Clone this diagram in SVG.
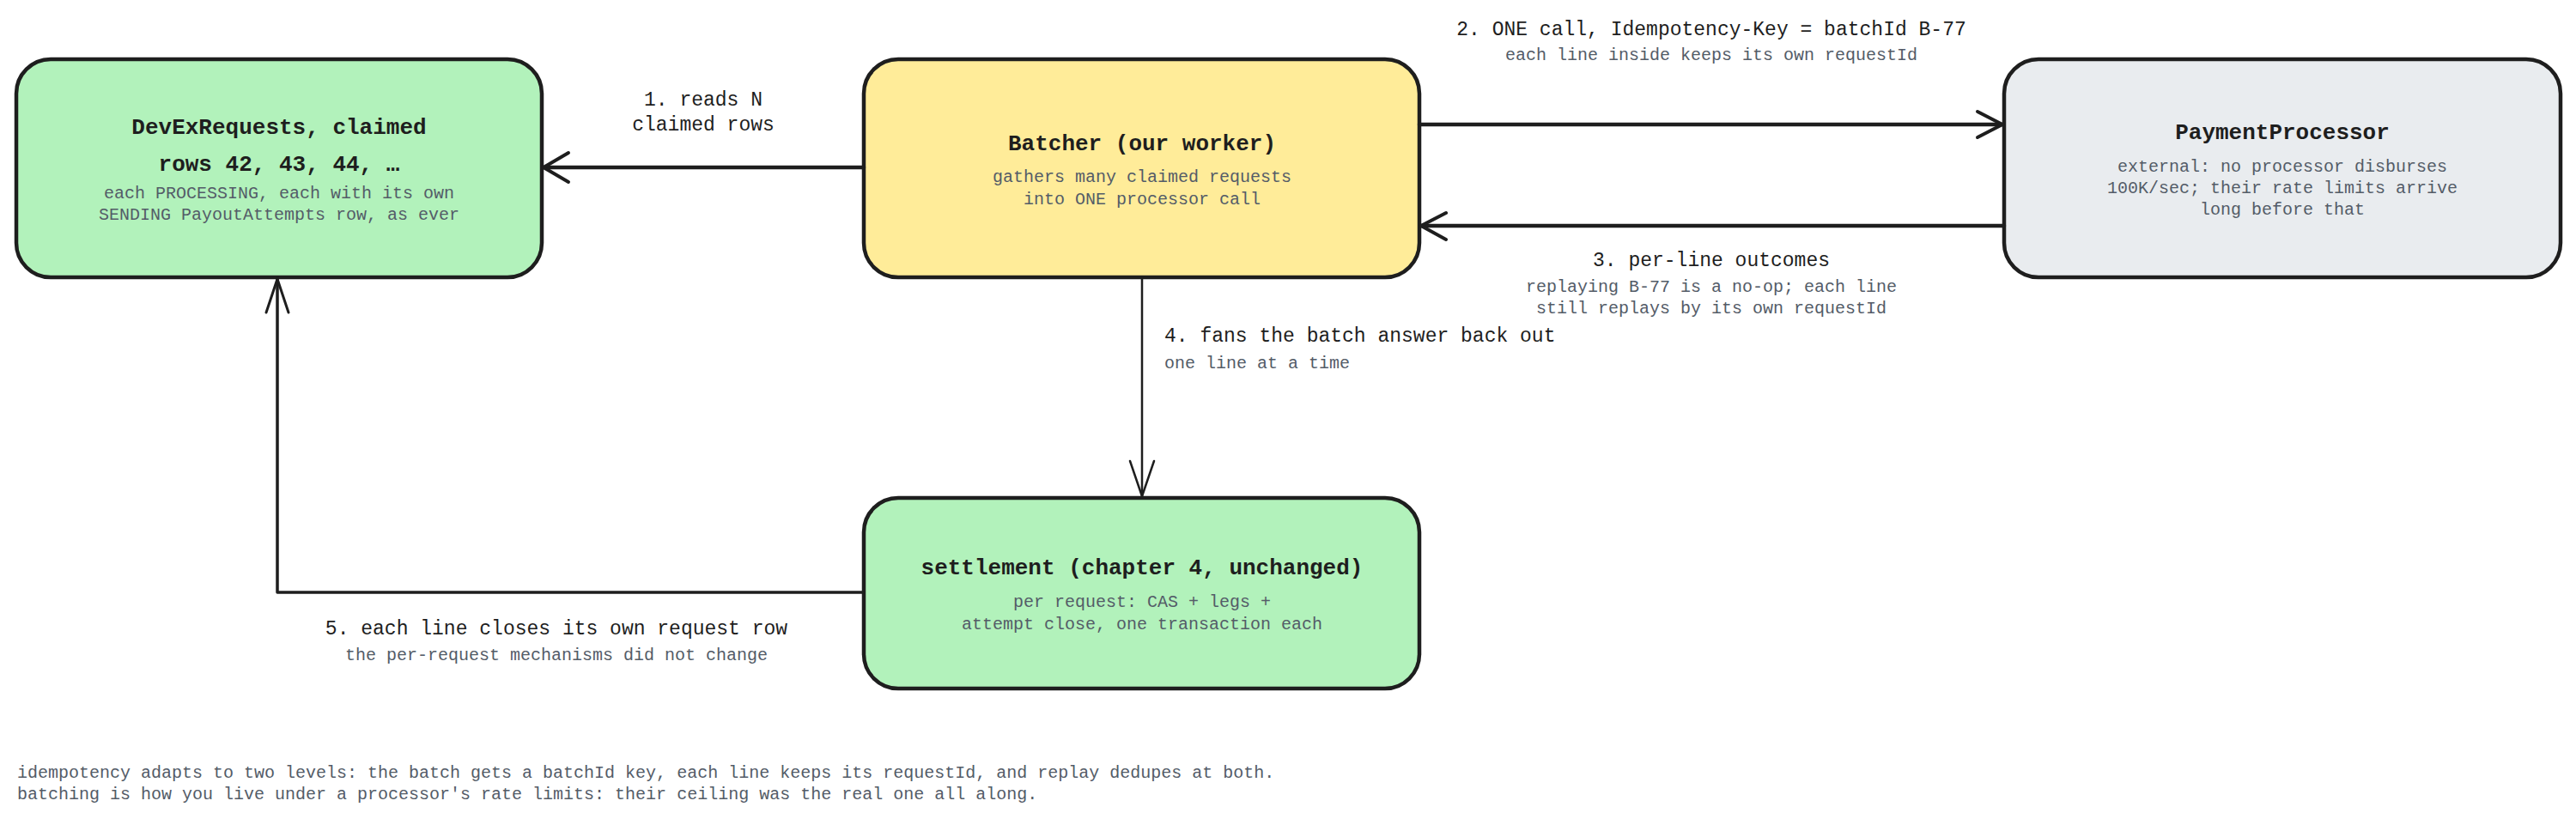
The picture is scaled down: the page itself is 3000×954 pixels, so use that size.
<svg xmlns="http://www.w3.org/2000/svg" width="3000" height="954" viewBox="0 0 3000 954">
<style>
.box{stroke:#1e1e1e;stroke-width:4.5}
.t{font-family:"Liberation Mono",monospace;font-size:26px;font-weight:bold;fill:#1e1e1e;text-anchor:middle}
.s{font-family:"Liberation Mono",monospace;font-size:20px;fill:#545c68;text-anchor:middle}
.l{font-family:"Liberation Mono",monospace;font-size:23px;fill:#1e1e1e;text-anchor:middle}
.c{fill:none;stroke:#1e1e1e;stroke-width:4.5;stroke-linecap:round;stroke-linejoin:round}
.h{fill:none;stroke:#1e1e1e;stroke-width:4;stroke-linecap:round;stroke-linejoin:round}
</style>
<rect width="3000" height="954" fill="#ffffff"/>
<g id="devex">
<rect class="box" x="19" y="69" width="612" height="254" rx="40" fill="#b2f2bb"/>
<text class="t" x="325" y="156">DevExRequests, claimed</text>
<text class="t" x="325" y="199">rows 42, 43, 44, …</text>
<text class="s" x="325" y="231">each PROCESSING, each with its own</text>
<text class="s" x="325" y="256">SENDING PayoutAttempts row, as ever</text>
</g>
<g id="batcher">
<rect class="box" x="1006" y="69" width="647" height="254" rx="40" fill="#ffec99"/>
<text class="t" x="1330" y="175">Batcher (our worker)</text>
<text class="s" x="1330" y="212">gathers many claimed requests</text>
<text class="s" x="1330" y="238">into ONE processor call</text>
</g>
<g id="processor">
<rect class="box" x="2334" y="69" width="648" height="254" rx="40" fill="#e9ecef"/>
<text class="t" x="2658" y="162">PaymentProcessor</text>
<text class="s" x="2658" y="200">external: no processor disburses</text>
<text class="s" x="2658" y="225">100K/sec; their rate limits arrive</text>
<text class="s" x="2658" y="250">long before that</text>
</g>
<g id="settlement">
<rect class="box" x="1006" y="580" width="647" height="222" rx="40" fill="#b2f2bb"/>
<text class="t" x="1330" y="669">settlement (chapter 4, unchanged)</text>
<text class="s" x="1330" y="707">per request: CAS + legs +</text>
<text class="s" x="1330" y="733">attempt close, one transaction each</text>
</g>
<g id="connectors">
<path class="c" d="M1006 195 L633 195"/>
<path class="h" d="M662 178 L633 195 L662 212"/>
<path class="c" d="M1653 145 L2332 145"/>
<path class="h" d="M2303 130 L2332 145 L2303 160"/>
<path class="c" d="M2334 263 L1655 263"/>
<path class="h" d="M1684 248 L1655 263 L1684 279"/>
<path class="c" d="M1330 323 L1330 578" style="stroke-width:2.5"/>
<path class="h" d="M1316 537 L1330 578 L1344 537" style="stroke-width:2.5"/>
<path class="c" d="M1006 690 L323 690 L323 325" style="stroke-width:3.5"/>
<path class="h" d="M310 364 L323 325 L336 364" style="stroke-width:3"/>
<text class="l" x="819" y="123">1. reads N</text>
<text class="l" x="819" y="152">claimed rows</text>
<text class="l" x="1993" y="41">2. ONE call, Idempotency-Key = batchId B-77</text>
<text class="s" x="1993" y="70">each line inside keeps its own requestId</text>
<text class="l" x="1993" y="310">3. per-line outcomes</text>
<text class="s" x="1993" y="340">replaying B-77 is a no-op; each line</text>
<text class="s" x="1993" y="365">still replays by its own requestId</text>
<text class="l" x="1356" y="398" style="text-anchor:start">4. fans the batch answer back out</text>
<text class="s" x="1356" y="429" style="text-anchor:start">one line at a time</text>
<text class="l" x="648" y="739">5. each line closes its own request row</text>
<text class="s" x="648" y="769">the per-request mechanisms did not change</text>
</g>
<text class="s" x="20" y="906" style="text-anchor:start">idempotency adapts to two levels: the batch gets a batchId key, each line keeps its requestId, and replay dedupes at both.</text>
<text class="s" x="20" y="931" style="text-anchor:start">batching is how you live under a processor's rate limits: their ceiling was the real one all along.</text>
</svg>
